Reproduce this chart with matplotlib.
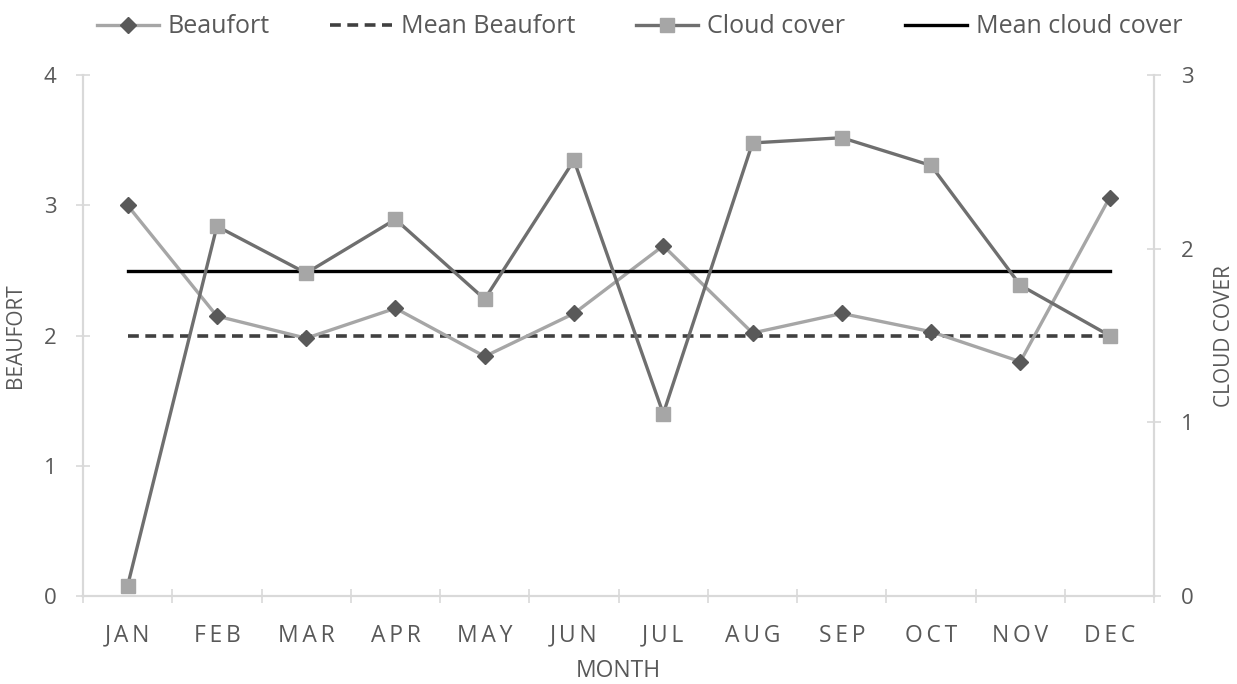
import matplotlib
matplotlib.use("Agg")
import matplotlib.pyplot as plt

months = ["JAN", "FEB", "MAR", "APR", "MAY", "JUN", "JUL", "AUG", "SEP", "OCT", "NOV", "DEC"]
beaufort = [3.00, 2.15, 1.98, 2.21, 1.84, 2.17, 2.69, 2.02, 2.17, 2.03, 1.80, 3.06]
mean_beaufort = [2.0] * 12
cloud_cover = [0.06, 2.13, 1.86, 2.17, 1.71, 2.51, 1.05, 2.61, 2.64, 2.48, 1.79, 1.50]
mean_cloud = [1.875] * 12

plt.rcParams["font.family"] = ["Open Sans", "DejaVu Sans"]
TXT = "#595959"
GRID = "#d9d9d9"
DARK = "#595959"
MID = "#6f6f6f"
LIGHT = "#a6a6a6"

fig = plt.figure(figsize=(12.37, 6.84), dpi=100)
ax = fig.add_axes([0.0671, 0.1287, 0.866, 0.7613])
ax2 = ax.twinx()

x = list(range(len(months)))

l1, = ax.plot(x, beaufort, color=LIGHT, lw=2.4, marker="D", ms=8,
              mfc=DARK, mec=DARK, label="Beaufort", zorder=3)
l2, = ax.plot(x, mean_beaufort, color="#404040", lw=2.6, ls=(0, (3, 1.8)),
              label="Mean Beaufort", zorder=2)
l3, = ax2.plot(x, cloud_cover, color=MID, lw=2.4, marker="s", ms=10,
               mfc=LIGHT, mec=LIGHT, label="Cloud cover", zorder=3)
l4, = ax2.plot(x, mean_cloud, color="black", lw=2.4,
               label="Mean cloud cover", zorder=2)

ax.set_xlim(-0.5, 11.5)
ax.set_ylim(0, 4)
ax2.set_ylim(0, 3)
ax.set_yticks([0, 1, 2, 3, 4])
ax2.set_yticks([0, 1, 2, 3])

# spaced-out month labels, like the original
ax.set_xticks(x)
ax.set_xticklabels(["\u2009".join(m) for m in months])
ax.set_xticks([i - 0.5 for i in range(13)], minor=True)
ax.tick_params(axis="x", which="major", length=0, pad=20, labelsize=16.5, colors=TXT)
ax.tick_params(axis="x", which="minor", length=10, direction="inout", color=GRID, width=1.2)
ax.tick_params(axis="y", length=10, direction="inout", color=GRID, width=1.2,
               labelsize=16, labelcolor=TXT, pad=14)
ax2.tick_params(axis="y", length=10, direction="inout", color=GRID, width=1.2,
                labelsize=16, labelcolor=TXT, pad=14)

for a in (ax, ax2):
    a.spines["top"].set_visible(False)
    for side in ("left", "right", "bottom"):
        a.spines[side].set_color(GRID)
        a.spines[side].set_linewidth(1.5)

ax.set_xlabel("MONTH", fontsize=16.5, color=TXT, labelpad=8)
ax.set_ylabel("BEAUFORT", fontsize=15, color=TXT, labelpad=13)
ax2.set_ylabel("CLOUD COVER", fontsize=15, color=TXT, labelpad=15)

fig.legend(handles=[l1, l2, l3, l4], loc="upper center", bbox_to_anchor=(0.517, 1.012),
           ncol=4, frameon=False, fontsize=18, labelcolor=TXT, handlelength=2.5,
           columnspacing=2.4, handletextpad=0.35)

fig.savefig("out.png", dpi=100)
